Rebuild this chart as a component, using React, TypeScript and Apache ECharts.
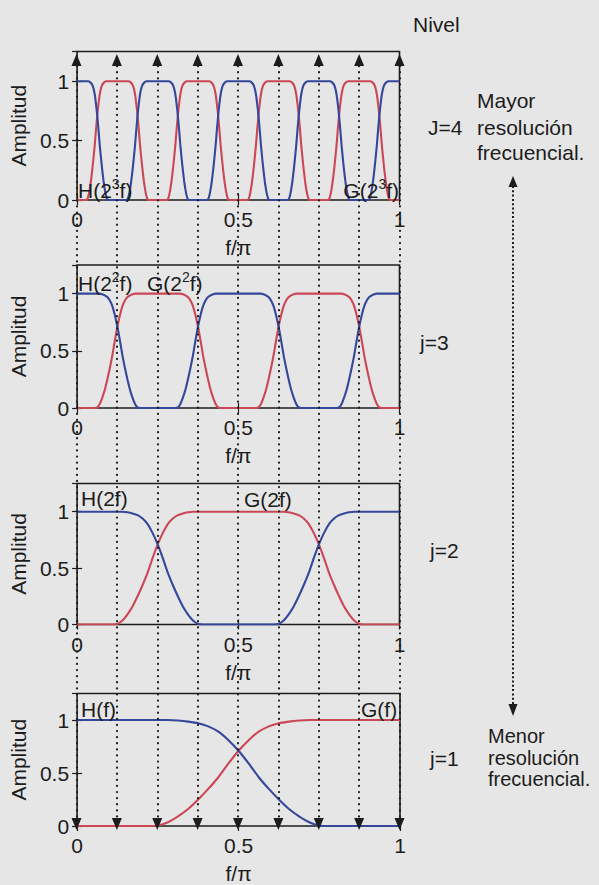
import React, { useEffect, useRef } from "react";
import * as echarts from "echarts";

const H_BASE = [1, 1, 1, 1, 1, 1, 1, 1, 1, 1, 0.995, 0.985, 0.97, 0.94, 0.89, 0.81, 0.71, 0.59, 0.46, 0.35, 0.25, 0.16, 0.09, 0.035, 0.005, 0, 0, 0, 0, 0, 0, 0, 0];
const G_BASE = [0, 0, 0, 0, 0, 0, 0, 0, 0.005, 0.035, 0.09, 0.16, 0.25, 0.35, 0.46, 0.59, 0.71, 0.81, 0.89, 0.94, 0.97, 0.985, 0.995, 1, 1, 1, 1, 1, 1, 1, 1, 1, 1];
// Dilation factor 2^(j-1) for each panel, top to bottom (j = 4, 3, 2, 1)
const DILATIONS = [8, 4, 2, 1];
const LEVEL_LABELS = ["J=4", "j=3", "j=2", "j=1"];
// Positions of the dotted markers on f/π
const MARKS = [0, 0.125, 0.25, 0.375, 0.5, 0.625, 0.75, 0.875, 1];
const X_TICKS = [0, 0.5, 1];
const Y_TICKS = [0, 0.5, 1];

const FONT = "'Liberation Sans', Arial, Helvetica, sans-serif";
const INK = "#1c1c1c";
const BLUE = "#34479a";
const RED = "#cc4756";
const BG = "#e6e6e6";

const GRIDS = [
  { left: 76.5, top: 51.5, width: 323, height: 148.5 },
  { left: 76.5, top: 265, width: 323, height: 143 },
  { left: 76.5, top: 483.5, width: 323, height: 141 },
  { left: 77, top: 693.5, width: 323, height: 140 },
];
const OVERLAY = { left: 76.5, top: 51.5, width: 323, height: 782 };

// dilated copy of a base response: value at f = i/(32*s) is base[(i mod 64) folded]
function dilated(base: number[], s: number): number[][] {
  const pts: number[][] = [];
  const n = 32 * s;
  for (let i = 0; i <= n; i++) {
    const m = i % 64;
    const idx = m <= 32 ? m : 64 - m;
    pts.push([i / n, base[idx]]);
  }
  return pts;
}

function richLabel(x: number, y: number, pre: string, sup: string, post: string, align = "left") {
  const text = sup ? `{a|${pre}}{s|${sup}}{a|${post}}` : `{a|${pre}${post}}`;
  return {
    type: "text",
    silent: true,
    z: 50,
    style: {
      x,
      y,
      text,
      align,
      verticalAlign: "middle",
      rich: {
        a: { fontSize: 21, fontFamily: FONT, fill: INK },
        s: { fontSize: 14, fontFamily: FONT, fill: INK, padding: [0, 0, 12, 0] },
      },
    },
  };
}

function plain(x: number, y: number, text: string, size = 21) {
  return {
    type: "text",
    silent: true,
    style: { x, y, text, fontSize: size, fontFamily: FONT, fill: INK, verticalAlign: "middle" },
  };
}

export default function App() {
  const ref = useRef<HTMLDivElement>(null);
  useEffect(() => {
    if (!ref.current) return;
    const chart = echarts.init(ref.current, undefined, { renderer: "svg" });

    const grid: any[] = GRIDS.map((g) => ({
      ...g,
      show: true,
      borderColor: INK,
      borderWidth: 1.6,
      backgroundColor: "transparent",
      containLabel: false,
    }));
    grid.push({ ...OVERLAY, show: false });

    const xAxis: any[] = [];
    const yAxis: any[] = [];
    const series: any[] = [];

    GRIDS.forEach((_, gi) => {
      xAxis.push({
        type: "value",
        gridIndex: gi,
        min: 0,
        max: 1,
        interval: 0.5,
        name: "f/π",
        nameLocation: "middle",
        nameGap: 37,
        nameTextStyle: { fontSize: 21, fontFamily: FONT, color: INK },
        axisLine: { show: false },
        axisTick: { show: true, inside: true, length: 5, lineStyle: { color: INK, width: 1.2 } },
        axisLabel: {
          fontSize: 21,
          fontFamily: FONT,
          color: INK,
          margin: 9,
          formatter: (v: number) => (X_TICKS.includes(v) ? String(v) : ""),
        },
        splitLine: { show: false },
      });
      xAxis.push({
        type: "value",
        gridIndex: gi,
        position: "top",
        min: 0,
        max: 1,
        interval: 0.5,
        axisLine: { show: false },
        axisTick: { show: true, inside: true, length: 5, lineStyle: { color: INK, width: 1.2 } },
        axisLabel: { show: false },
        splitLine: { show: false },
      });
      yAxis.push({
        type: "value",
        gridIndex: gi,
        min: 0,
        max: 1.25,
        interval: 0.5,
        name: "Amplitud",
        nameLocation: "middle",
        nameRotate: 90,
        nameGap: 40,
        nameTextStyle: { fontSize: 21, fontFamily: FONT, color: INK },
        axisLine: { show: false },
        axisTick: { show: true, inside: true, length: 5, lineStyle: { color: INK, width: 1.2 } },
        axisLabel: {
          fontSize: 21,
          fontFamily: FONT,
          color: INK,
          margin: 8,
          showMaxLabel: false,
          formatter: (v: number) => (Y_TICKS.includes(v) ? String(v) : ""),
        },
        splitLine: { show: false },
      });
      yAxis.push({
        type: "value",
        gridIndex: gi,
        position: "right",
        min: 0,
        max: 1.25,
        interval: 0.5,
        axisLine: { show: false },
        axisTick: { show: true, inside: true, length: 5, lineStyle: { color: INK, width: 1.2 } },
        axisLabel: { show: false },
        splitLine: { show: false },
      });
      const s = DILATIONS[gi];
      series.push({
        type: "line",
        name: "H",
        xAxisIndex: gi * 2,
        yAxisIndex: gi * 2,
        data: dilated(H_BASE, s),
        showSymbol: false,
        smooth: 0.2,
        lineStyle: { color: BLUE, width: 2.1 },
        z: 3,
      });
      series.push({
        type: "line",
        name: "G",
        xAxisIndex: gi * 2,
        yAxisIndex: gi * 2,
        data: dilated(G_BASE, s),
        showSymbol: false,
        smooth: 0.2,
        lineStyle: { color: RED, width: 2.1 },
        z: 2,
      });
    });

    // overlay for the dotted dyadic markers spanning all panels
    const oIdx = GRIDS.length * 2;
    xAxis.push({ type: "value", gridIndex: GRIDS.length, min: 0, max: 1, show: false });
    yAxis.push({ type: "value", gridIndex: GRIDS.length, min: 0, max: 782, show: false });
    const TOP_END = 773.5;
    const BOTTOM_END = 9.5;
    series.push({
      type: "line",
      xAxisIndex: oIdx,
      yAxisIndex: oIdx,
      data: [],
      silent: true,
      z: 4,
      markLine: {
        silent: true,
        animation: false,
        symbol: ["triangle", "triangle"],
        symbolSize: [10, 12],
        label: { show: false },
        emphasis: { disabled: true },
        lineStyle: { color: INK, type: [0.1, 6], width: 2.2, cap: "round" },
        itemStyle: { color: INK },
        data: MARKS.map((m) => [{ coord: [m, TOP_END] }, { coord: [m, BOTTOM_END] }]),
      },
    });

    const graphic: any[] = [
      plain(413, 24, "Nivel"),
      plain(477, 100, "Mayor"),
      plain(428, 127, LEVEL_LABELS[0]),
      plain(477, 127, "resolución"),
      plain(477, 152, "frecuencial."),
      plain(420, 342, LEVEL_LABELS[1]),
      plain(430, 550, LEVEL_LABELS[2]),
      plain(488, 736, "Menor", 20),
      plain(430, 758, LEVEL_LABELS[3]),
      plain(488, 757.5, "resolución", 20),
      plain(488, 779, "frecuencial.", 20),
      richLabel(78, 190, "H(2", "3", "f)"),
      richLabel(399, 190, "G(2", "3", "f)", "right"),
      richLabel(78, 283, "H(2", "2", "f)"),
      richLabel(147, 283, "G(2", "2", "f)"),
      richLabel(81, 498, "H(2", "", "f)"),
      richLabel(244, 499, "G(2", "", "f)"),
      richLabel(81, 709, "H(", "", "f)"),
      richLabel(361, 709, "G(", "", "f)"),
      {
        type: "line",
        silent: true,
        shape: { x1: 513, y1: 186, x2: 513, y2: 704 },
        style: { stroke: INK, lineWidth: 2, lineDash: [2, 2.3] },
      },
      {
        type: "polygon",
        silent: true,
        shape: { points: [[513, 176], [508.5, 187], [517.5, 187]] },
        style: { fill: INK },
      },
      {
        type: "polygon",
        silent: true,
        shape: { points: [[513, 716], [508.5, 704], [517.5, 704]] },
        style: { fill: INK },
      },
    ];

    chart.setOption({
      animation: false,
      backgroundColor: BG,
      textStyle: { fontFamily: FONT },
      grid,
      xAxis,
      yAxis,
      series,
      graphic,
    });
    return () => chart.dispose();
  }, []);

  return (
    <div
      ref={ref}
      style={{ position: "fixed", left: 0, top: 0, width: 599, height: 885, background: BG }}
    />
  );
}
